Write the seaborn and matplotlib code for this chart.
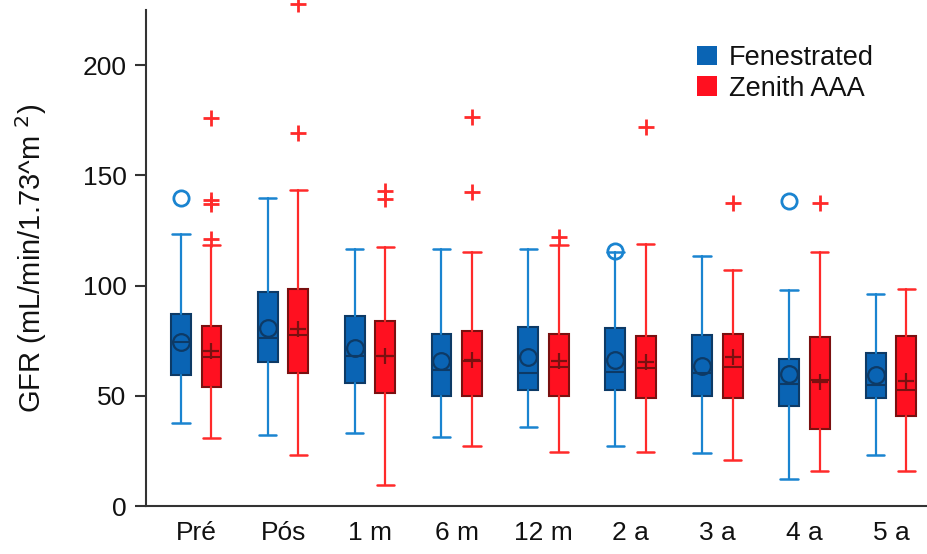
import numpy as np
import seaborn as sns
import matplotlib
matplotlib.use("Agg")
from matplotlib import pyplot as plt
from matplotlib.patches import Patch

# Time points
categories = ["Pré", "Pós", "1 m", "6 m", "12 m", "2 a", "3 a", "4 a", "5 a"]

# Fenestrated (blue) box statistics
fen_whislo = [37.6, 32.0, 33.2, 31.4, 35.9, 27.4, 24.2, 12.1, 23.2]
fen_q1 = [59.2, 65.2, 55.9, 50.0, 52.4, 52.4, 50.0, 45.2, 49.1]
fen_med = [74.5, 76.1, 68.0, 61.7, 60.5, 60.6, 60.5, 55.3, 54.8]
fen_q3 = [87.3, 97.1, 86.2, 78.0, 81.1, 80.9, 77.4, 66.8, 69.2]
fen_whishi = [123.5, 139.5, 116.8, 116.4, 116.4, 115.2, 113.6, 98.0, 96.2]
fen_mean = [74.5, 80.9, 71.8, 65.6, 67.6, 66.1, 63.6, 59.7, 59.5]
fen_fliers = [[139.5], [], [], [], [], [115.5], [], [138.3], []]

# Zenith AAA (red) box statistics
zen_whislo = [30.8, 23.2, 9.5, 27.4, 24.7, 24.7, 20.9, 15.8, 15.8]
zen_q1 = [54.2, 60.3, 51.2, 49.7, 49.7, 48.8, 48.8, 35.0, 40.8]
zen_med = [67.4, 77.6, 68.2, 65.9, 62.9, 62.4, 62.9, 57.0, 52.7]
zen_q3 = [81.7, 98.6, 84.1, 79.5, 78.2, 77.1, 77.9, 76.5, 77.0]
zen_whishi = [118.2, 143.2, 117.4, 115.2, 118.2, 118.9, 107.1, 115.0, 98.3]
zen_mean = [70.5, 80.3, 68.0, 66.4, 65.9, 65.2, 67.4, 56.2, 56.8]
zen_fliers = [[120.9, 136.8, 138.8, 175.8], [169.4, 227.7], [139.4, 142.9],
              [142.4, 176.4], [122.1], [171.8], [137.6], [137.6], []]

sns.set_style("ticks")
plt.rcParams['font.family'] = ['Liberation Sans', 'DejaVu Sans']
plt.rcParams['text.color'] = '#111111'
plt.rcParams['xtick.labelcolor'] = '#111111'
plt.rcParams['ytick.labelcolor'] = '#111111'
plt.rcParams['axes.labelcolor'] = '#111111'


def make_stats(lo, q1, med, q3, hi, mean, fliers):
    return [dict(whislo=a, q1=b, med=c, q3=d, whishi=e, mean=f, fliers=g)
            for a, b, c, d, e, f, g in zip(lo, q1, med, q3, hi, mean, fliers)]


fig = plt.figure(figsize=(9.28, 5.54), dpi=100)
ax = fig.add_axes([146 / 928, 48 / 554, 1 - 146 / 928, 496 / 554])

pos = np.arange(len(categories))
offset = 0.176
width = 0.23

styles = {
    "fen": dict(fill="#0a64b4", edge="#0d3a66", line="#1a84d0", mean_marker="o"),
    "zen": dict(fill="#ff1020", edge="#7a1010", line="#ff2a2a", mean_marker="+"),
}

groups = [
    ("fen", make_stats(fen_whislo, fen_q1, fen_med, fen_q3, fen_whishi, fen_mean, fen_fliers), pos - offset),
    ("zen", make_stats(zen_whislo, zen_q1, zen_med, zen_q3, zen_whishi, zen_mean, zen_fliers), pos + offset),
]

for key, stats, xs in groups:
    s = styles[key]
    flier_marker = "o" if key == "fen" else "+"
    ax.bxp(stats, positions=xs, widths=width, capwidths=0.2, patch_artist=True,
           showmeans=True, showfliers=True,
           boxprops=dict(facecolor=s["fill"], edgecolor=s["edge"], linewidth=1.5),
           medianprops=dict(color=s["edge"], linewidth=1.5),
           whiskerprops=dict(color=s["line"], linewidth=1.6),
           capprops=dict(color=s["line"], linewidth=1.8),
           meanprops=dict(marker=s["mean_marker"], markersize=12, markeredgewidth=1.6,
                          markerfacecolor="none", markeredgecolor=s["edge"]),
           flierprops=dict(marker=flier_marker, markersize=11, markeredgewidth=2.0,
                           markerfacecolor="none", markeredgecolor=s["line"]),
           manage_ticks=False)

for line in ax.lines:
    line.set_clip_on(False)

ax.set_xlim(-0.578, 8.425)
ax.set_ylim(0, 225)
ax.set_yticks([0, 50, 100, 150, 200])
ax.set_xticks(pos)
ax.set_xticklabels(categories)
ax.tick_params(axis="y", labelsize=19, length=8, width=1.5, color="#333333", pad=6)
ax.tick_params(axis="x", labelsize=19, length=0, pad=11)
ax.set_ylabel("GFR (mL/min/1.73^m $^{2}$)", fontsize=21, labelpad=24)

sns.despine(ax=ax, top=True, right=True)
for sp in ["left", "bottom"]:
    ax.spines[sp].set_linewidth(1.5)
    ax.spines[sp].set_color("#333333")

handles = [Patch(facecolor=styles["fen"]["fill"], edgecolor="none", label="Fenestrated"),
           Patch(facecolor=styles["zen"]["fill"], edgecolor="none", label="Zenith AAA")]
ax.legend(handles=handles, loc="upper left", bbox_to_anchor=(0.691, 0.952), frameon=False,
          fontsize=19.5, handlelength=0.72, handleheight=0.72, handletextpad=0.45,
          labelspacing=0.18, borderaxespad=0)

fig.savefig("out.png", dpi=100)
